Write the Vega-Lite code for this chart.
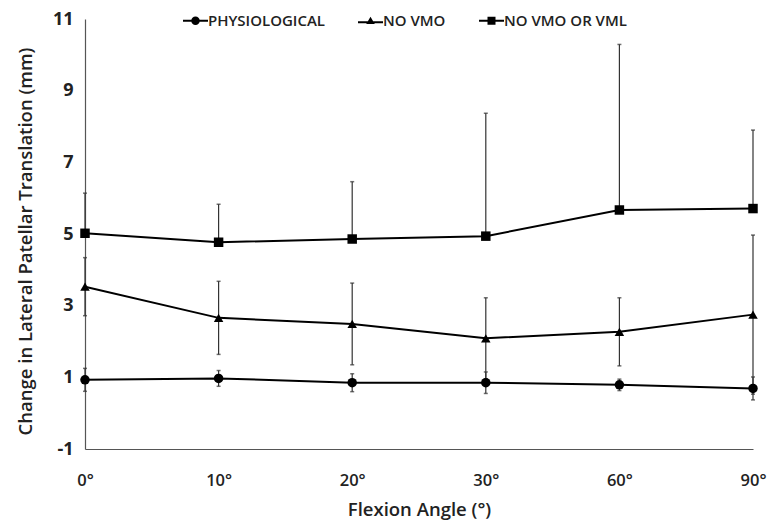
{
  "$schema": "https://vega.github.io/schema/vega-lite/v6.json",
  "autosize": {"type": "none"},
  "width": 668,
  "height": 430,
  "padding": {"left": 85, "top": 19, "right": 15, "bottom": 73},
  "background": "white",
  "config": {
    "view": {"stroke": null},
    "font": "Open Sans",
    "axis": {"grid": false, "ticks": false, "domainColor": "#555", "domainWidth": 1.2, "labelColor": "#222", "titleColor": "#222", "labelFont": "Open Sans", "titleFont": "Open Sans"}
  },
  "data": {
    "values": [
      {"angle": "0°", "series": "PHYSIOLOGICAL", "mean": 0.93, "lo": 0.61, "hi": 1.25},
      {"angle": "10°", "series": "PHYSIOLOGICAL", "mean": 0.97, "lo": 0.75, "hi": 1.19},
      {"angle": "20°", "series": "PHYSIOLOGICAL", "mean": 0.85, "lo": 0.60, "hi": 1.10},
      {"angle": "30°", "series": "PHYSIOLOGICAL", "mean": 0.85, "lo": 0.55, "hi": 1.15},
      {"angle": "60°", "series": "PHYSIOLOGICAL", "mean": 0.79, "lo": 0.63, "hi": 0.95},
      {"angle": "90°", "series": "PHYSIOLOGICAL", "mean": 0.69, "lo": 0.37, "hi": 1.01},
      {"angle": "0°", "series": "NO VMO", "mean": 3.53, "lo": 2.72, "hi": 4.34},
      {"angle": "10°", "series": "NO VMO", "mean": 2.66, "lo": 1.64, "hi": 3.68},
      {"angle": "20°", "series": "NO VMO", "mean": 2.49, "lo": 1.35, "hi": 3.63},
      {"angle": "30°", "series": "NO VMO", "mean": 2.09, "lo": 0.96, "hi": 3.22},
      {"angle": "60°", "series": "NO VMO", "mean": 2.27, "lo": 1.32, "hi": 3.22},
      {"angle": "90°", "series": "NO VMO", "mean": 2.75, "lo": 0.53, "hi": 4.97},
      {"angle": "0°", "series": "NO VMO OR VML", "mean": 5.02, "lo": 5.02, "hi": 6.14},
      {"angle": "10°", "series": "NO VMO OR VML", "mean": 4.77, "lo": 4.77, "hi": 5.83},
      {"angle": "20°", "series": "NO VMO OR VML", "mean": 4.86, "lo": 4.86, "hi": 6.46},
      {"angle": "30°", "series": "NO VMO OR VML", "mean": 4.94, "lo": 4.94, "hi": 8.37},
      {"angle": "60°", "series": "NO VMO OR VML", "mean": 5.67, "lo": 5.67, "hi": 10.29},
      {"angle": "90°", "series": "NO VMO OR VML", "mean": 5.71, "lo": 5.71, "hi": 7.90}
    ]
  },
  "encoding": {
    "x": {
      "field": "angle", "type": "ordinal",
      "sort": ["0°", "10°", "20°", "30°", "60°", "90°"],
      "scale": {"type": "point", "padding": 0},
      "axis": {"title": "Flexion Angle (°)", "labelAngle": 0, "labelFontSize": 16.5, "labelFontWeight": 600, "labelPadding": 23, "titleFontSize": 18.5, "titleFontWeight": 600, "titlePadding": 12}
    }
  },
  "resolve": {"scale": {"shape": "independent"}, "legend": {"shape": "independent"}},
  "layer": [
    {
      "mark": {"type": "rule", "color": "#333", "strokeWidth": 1.2},
      "encoding": {
        "y": {"field": "lo", "type": "quantitative"},
        "y2": {"field": "hi"},
        "detail": {"field": "series"}
      }
    },
    {
      "mark": {"type": "tick", "color": "#333", "size": 4, "thickness": 1.5},
      "encoding": {"y": {"field": "hi", "type": "quantitative"}}
    },
    {
      "mark": {"type": "tick", "color": "#333", "size": 4, "thickness": 1.5},
      "encoding": {"y": {"field": "lo", "type": "quantitative"}}
    },
    {
      "mark": {"type": "line", "color": "black", "strokeWidth": 2},
      "encoding": {
        "y": {"field": "mean", "type": "quantitative"},
        "detail": {"field": "series"}
      }
    },
    {
      "mark": {"type": "point", "filled": true, "color": "black", "opacity": 1, "size": 90},
      "encoding": {
        "y": {
          "field": "mean", "type": "quantitative",
          "scale": {"domain": [-1, 11], "nice": false, "zero": false},
          "axis": {"title": "Change in Lateral Patellar Translation (mm)", "values": [-1, 1, 3, 5, 7, 9, 11], "labelExpr": "'' + datum.value", "labelFontSize": 18, "labelFontWeight": 700, "labelPadding": 12, "titleFontSize": 18.5, "titleFontWeight": 600, "titleX": -50, "titleY": 222}
        },
        "shape": {
          "field": "series", "type": "nominal",
          "scale": {"domain": ["PHYSIOLOGICAL", "NO VMO", "NO VMO OR VML"], "range": ["circle", "triangle-up", "square"]},
          "legend": null
        }
      }
    },
    {
      "transform": [{"filter": "false"}],
      "mark": {"type": "point", "filled": true, "color": "black", "opacity": 1, "size": 100},
      "encoding": {
        "y": {"field": "mean", "type": "quantitative"},
        "shape": {
          "field": "series", "type": "nominal",
          "scale": {"domain": ["PHYSIOLOGICAL", "NO VMO", "NO VMO OR VML"], "range": ["M-2.5,-0.2H2.5V0.2H-2.5Z M0.85,0A0.85,0.85,0,1,1,-0.85,0A0.85,0.85,0,1,1,0.85,0Z", "M-2.5,0.1H2.5V0.5H-2.5Z M0,-0.8L0.85,0.65L-0.85,0.65Z", "M-2.5,-0.2H2.5V0.2H-2.5Z M-0.8,-0.8H0.8V0.8H-0.8Z"]},
          "legend": {
            "title": null,
            "orient": "none",
            "legendX": 103,
            "legendY": -6,
            "direction": "horizontal",
            "labelFontSize": 15,
            "labelFontWeight": 600,
            "labelColor": "#222",
            "labelOffset": 5,
            "columnPadding": 30,
            "symbolSize": 100,
            "symbolOpacity": 1
          }
        }
      }
    }
  ]
}
